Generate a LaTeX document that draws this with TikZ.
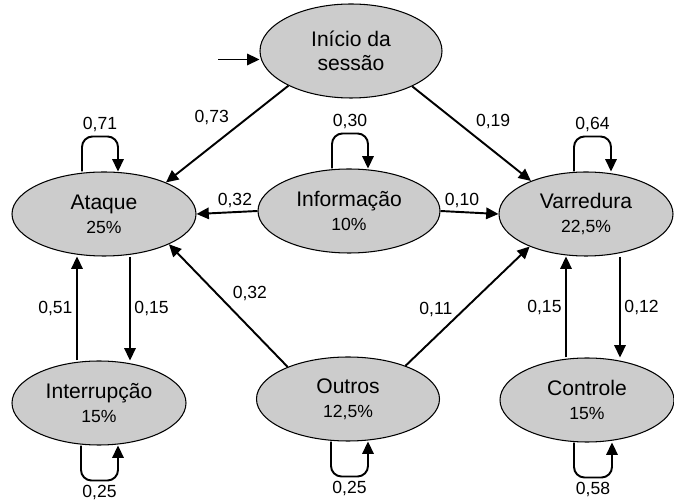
\documentclass[tikz,border=0pt]{standalone}
\usepackage{fontspec}
\setmainfont{Liberation Sans}
\usetikzlibrary{shapes.geometric,arrows.meta}
\definecolor{cinza}{RGB}{204,204,204}
\newcommand{\perc}[1]{{\fontsize{10}{12}\selectfont #1}}
\begin{document}
\begin{tikzpicture}[
    estado/.style={ellipse,draw,line width=0.6pt,fill=cinza,inner sep=0pt,
      minimum width=3.48cm,minimum height=1.68cm,align=center,
      font=\fontsize{12}{13.6}\selectfont},
    seta/.style={line width=1.1pt,-{Triangle[length=7pt,width=6.5pt]}},
    prob/.style={inner sep=2pt,font=\fontsize{10}{12}\selectfont}]
  \useasboundingbox (0,0) rectangle (13.48,-10);

  % ---- estados -------------------------------------------------------------
  \node[estado,minimum width=3.64cm,minimum height=1.88cm] (ini) at (7.02,-1.02)
    {Início da\\sessão};
  \node[estado,minimum width=3.68cm] (ata) at (2.08,-4.28) {Ataque\\\perc{25\%}};
  \node[estado,minimum width=3.64cm] (inf) at (6.98,-4.22) {Informação\\\perc{10\%}};
  \node[estado] (var) at (11.72,-4.28) {Varredura\\\perc{22,5\%}};
  \node[estado] (int) at (1.98,-8.06) {Interrupção\\\perc{15\%}};
  \node[estado,minimum width=3.66cm] (out) at (6.96,-7.98) {Outros\\\perc{12,5\%}};
  \node[estado] (con) at (11.74,-8.00) {Controle\\\perc{15\%}};

  \coordinate (entrada) at (4.36,-1.19);
  \path ([xshift= 0.52cm]ata.south) coordinate (a1)
        ([xshift=-0.54cm]ata.south) coordinate (a2)
        ([xshift= 0.68cm]var.south) coordinate (v1)
        ([xshift=-0.40cm]var.south) coordinate (v2);

  % ---- transicoes ----------------------------------------------------------
  \draw[seta] (entrada) -- (entrada -| ini.west);
  \draw[seta] (ini.209) -- node[prob,above left,pos=0.45]{0,73} (ata.27);
  \draw[seta] (ini.-30) -- node[prob,above right]{0,19} (var.149);
  \draw[seta] (inf.west) -- node[prob,above,pos=0.37]{0,32} (ata.east);
  \draw[seta] (inf.east) -- node[prob,above,pos=0.37]{0,10} (var.west);
  \draw[seta] (a1) -- node[prob,right]{0,15} (a1 |- int.north);
  \draw[seta] (a2 |- int.north) -- node[prob,left]{0,51} (a2);
  \draw[seta] (v1) -- node[prob,right]{0,12} (v1 |- con.north);
  \draw[seta] (v2 |- con.north) -- node[prob,left]{0,15} (v2);
  \draw[seta] (out.152) -- node[prob,above right]{0,32} (ata.-25);
  \draw[seta] (out.30) -- node[prob,left=4pt,pos=0.47]{0,11} (var.210);

  % ---- lacos ---------------------------------------------------------------
  \draw[seta,rounded corners=6pt] ([xshift=-0.44cm]ata.north) -- ++(0,0.7)
    -- node[prob,above]{0,71} ++(0.72,0) -- ([xshift=0.28cm]ata.north);
  \draw[seta,rounded corners=6pt] ([xshift=-0.34cm]inf.north) -- ++(0,0.7)
    -- node[prob,above]{0,30} ++(0.72,0) -- ([xshift=0.38cm]inf.north);
  \draw[seta,rounded corners=6pt] ([xshift=-0.24cm]var.north) -- ++(0,0.7)
    -- node[prob,above]{0,64} ++(0.74,0) -- ([xshift=0.50cm]var.north);
  \draw[seta,rounded corners=6pt] ([xshift=-0.36cm]int.south) -- ++(0,-0.7)
    -- node[prob,below]{0,25} ++(0.74,0) -- ([xshift=0.38cm]int.south);
  \draw[seta,rounded corners=6pt] ([xshift=-0.34cm]out.south) -- ++(0,-0.7)
    -- node[prob,below]{0,25} ++(0.74,0) -- ([xshift=0.40cm]out.south);
  \draw[seta,rounded corners=6pt] ([xshift=-0.26cm]con.south) -- ++(0,-0.7)
    -- node[prob,below]{0,58} ++(0.76,0) -- ([xshift=0.50cm]con.south);
\end{tikzpicture}
\end{document}
